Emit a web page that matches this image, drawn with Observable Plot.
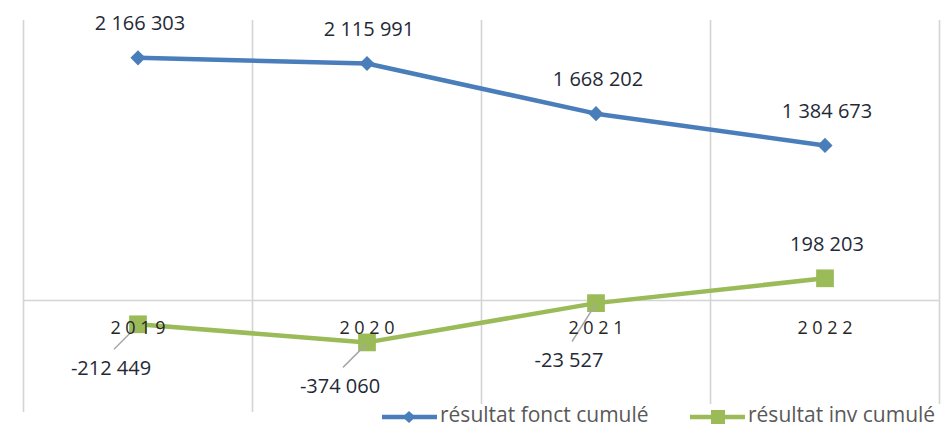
<!DOCTYPE html>
<html><head><meta charset="utf-8">
<script src="https://cdn.jsdelivr.net/npm/d3@7"></script>
<script src="https://cdn.jsdelivr.net/npm/@observablehq/plot@0.6"></script>
<style>
body{margin:0;background:#fff;font-family:"Open Sans",sans-serif;}
#wrap{position:relative;width:942px;height:427px;overflow:hidden;}
#legendBg{position:absolute;left:376px;top:404px;width:566px;height:23px;background:#fff;}
.item{position:absolute;top:400px;height:28px;line-height:28px;font-size:21px;color:#595959;display:flex;align-items:flex-start;white-space:nowrap;}
.item svg{display:block;margin-right:3px;}
</style></head><body><div id="wrap"></div>
<script>
const years = [2019, 2020, 2021, 2022];
const yearLabels = ["2 0 1 9", "2 0 2 0", "2 0 2 1", "2 0 2 2"];
const fonctValues = [2166303, 2115991, 1668202, 1384673];
const invValues = [-212449, -374060, -23527, 198203];
const seriesNames = ["résultat fonct cumulé", "résultat inv cumulé"];
const seriesColors = ["#4a7ebb", "#9bbb59"];

const fmt = d3.formatLocale({decimal: ",", thousands: " ", grouping: [3], currency: ["", ""], minus: "-"}).format(",d");

const fonct = years.map((x, i) => ({x, y: fonctValues[i]}));
const inv = years.map((x, i) => ({x, y: invValues[i]}));
const yearData = years.map((x, i) => ({x, y: 0, label: yearLabels[i]}));
const boundaries = years.map(y => y - 0.5).concat([years[years.length - 1] + 0.5]);

const W = 942, H = 427, mT = 20, mB = 15, mL = 23, mR = 3;
const xDomain = [boundaries[0], boundaries[boundaries.length - 1]];
const yDomain = [-1000000, 2500000];
const pxX = (xDomain[1] - xDomain[0]) / (W - mL - mR);
const pxY = (yDomain[1] - yDomain[0]) / (H - mT - mB);

const pos = inv.filter(d => d.y >= 0);
// negative labels sit below-left of the point, and below the category labels
const neg = inv.filter(d => d.y < 0).map(d => ({...d, ly: Math.min(d.y - 44 * pxY, -60 * pxY)}));
const labelColor = "#1f2a36";

const chart = Plot.plot({
  width: W, height: H,
  marginTop: mT, marginBottom: mB, marginLeft: mL, marginRight: mR,
  style: {fontFamily: "Open Sans, sans-serif", background: "transparent"},
  x: {type: "linear", domain: xDomain, axis: null},
  y: {domain: yDomain, axis: null},
  marks: [
    Plot.ruleX(boundaries, {stroke: "#d4d4d4", strokeWidth: 1.6}),
    Plot.ruleY([0], {stroke: "#d4d4d4", strokeWidth: 1.6}),
    Plot.line(fonct, {x: "x", y: "y", stroke: seriesColors[0], strokeWidth: 4.5}),
    Plot.line(inv, {x: "x", y: "y", stroke: seriesColors[1], strokeWidth: 4.5}),
    Plot.dot(fonct, {x: "x", y: "y", symbol: "diamond2", r: 6.8, fill: seriesColors[0], stroke: "none"}),
    Plot.dot(inv, {x: "x", y: "y", symbol: "square", r: 10, fill: seriesColors[1], stroke: "none"}),
    Plot.link(neg, {x1: d => d.x - 1 * pxX, y1: d => d.y - 2 * pxY, x2: d => d.x - 24 * pxX, y2: d => d.ly + 19 * pxY, stroke: "#a6a6a6", strokeWidth: 1.5}),
    Plot.text(yearData, {x: "x", y: "y", text: "label", dy: 28, fontSize: 18, fill: "#262626"}),
    Plot.text(fonct, {x: "x", y: "y", text: d => fmt(d.y), dy: -34, dx: 2, fontSize: 20, fill: labelColor}),
    Plot.text(pos, {x: "x", y: "y", text: d => fmt(d.y), dy: -34, dx: 2, fontSize: 20, fill: labelColor}),
    Plot.text(neg, {x: "x", y: "ly", text: d => fmt(d.y), dx: -27, fontSize: 20, fill: labelColor})
  ]
});

const wrap = document.getElementById("wrap");
wrap.appendChild(chart);
const bg = document.createElement("div");
bg.id = "legendBg";
wrap.appendChild(bg);

function legendItem(left, name, color, shape) {
  const div = document.createElement("div");
  div.className = "item";
  div.style.left = left + "px";
  const marker = shape === "diamond"
    ? `<path d="M27,11 L33.5,17 L27,23 L20.5,17 Z" fill="${color}"/>`
    : `<rect x="21" y="10" width="14" height="14" fill="${color}"/>`;
  div.innerHTML = `<svg width="55" height="28"><line x1="0" x2="55" y1="17" y2="17" stroke="${color}" stroke-width="4.5"/>${marker}</svg><span>${name}</span>`;
  wrap.appendChild(div);
}
legendItem(382, seriesNames[0], seriesColors[0], "diamond");
legendItem(690, seriesNames[1], seriesColors[1], "square");
</script>
</body></html>
